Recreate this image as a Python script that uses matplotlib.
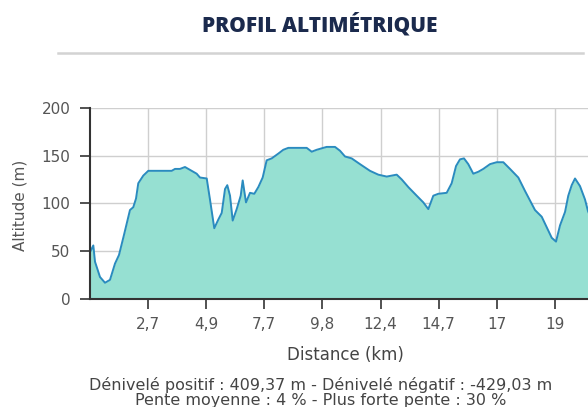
import matplotlib
matplotlib.use("Agg")
import matplotlib.pyplot as plt
from matplotlib.lines import Line2D

# Data: x position in tick-interval units (one unit per labelled tick), altitude in m
x_pos = [0.0, 0.057, 0.086, 0.172, 0.258, 0.344, 0.430, 0.499, 0.585, 0.688,
         0.745, 0.792, 0.831, 0.917, 1.003, 1.406, 1.463, 1.549, 1.635, 1.721,
         1.836, 1.893, 2.009, 2.065, 2.139, 2.208, 2.267, 2.324, 2.363, 2.410,
         2.456, 2.525, 2.594, 2.628, 2.685, 2.754, 2.828, 2.897, 2.972, 3.041,
         3.127, 3.241, 3.327, 3.413, 3.730, 3.816, 3.902, 4.015, 4.073, 4.217,
         4.303, 4.389, 4.504, 4.647, 4.819, 4.962, 5.107, 5.279, 5.365, 5.479,
         5.623, 5.737, 5.823, 5.909, 5.995, 6.139, 6.225, 6.300, 6.368, 6.437,
         6.511, 6.597, 6.683, 6.769, 6.885, 7.000, 7.114, 7.229, 7.372, 7.487,
         7.573, 7.659, 7.775, 7.861, 7.947, 8.021, 8.090, 8.176, 8.232, 8.291,
         8.348, 8.434, 8.520, 8.571, 8.650]
altitude = [49, 56, 39, 23, 17, 20, 37, 46, 67, 93,
            96, 105, 121, 129, 134, 134, 136, 136, 138, 135,
            131, 127, 126, 104, 74, 83, 90, 115, 119, 108,
            82, 94, 108, 124, 101, 111, 110, 117, 127, 145,
            147, 152, 156, 158, 158, 154, 156, 158, 159, 159,
            155, 149, 147, 141, 134, 130, 128, 130, 125, 117,
            108, 101, 94, 108, 110, 111, 121, 139, 146, 147,
            141, 131, 133, 136, 141, 143, 143, 136, 127, 113,
            103, 93, 86, 75, 64, 60, 77, 91, 108, 119,
            126, 118, 104, 92, 80]

tick_positions = [1, 2, 3, 4, 5, 6, 7, 8]
tick_labels = ["2,7", "4,9", "7,7", "9,8", "12,4", "14,7", "17", "19"]
y_ticks = [0, 50, 100, 150, 200]

title = "PROFIL ALTIMÉTRIQUE"
footer1 = "Dénivelé positif : 409,37 m - Dénivelé négatif : -429,03 m"
footer2 = "Pente moyenne : 4 % - Plus forte pente : 30 %"

W, H = 588, 407
fig = plt.figure(figsize=(W / 100, H / 100), dpi=100)
fig.patch.set_facecolor("white")

left, right, top, bottom = 90, 588, 107.7, 299
ax = fig.add_axes([left / W, (H - bottom) / H, (right - left) / W, (bottom - top) / H])

ax.fill_between(x_pos, altitude, 0, color="#96e0d2", linewidth=0, zorder=2)
ax.plot(x_pos, altitude, color="#2a8bbf", linewidth=1.4, zorder=3)

ax.set_xlim(0, (right - left) / 58.1)
ax.set_ylim(0, 200)
ax.set_xticks(tick_positions)
ax.set_xticklabels(tick_labels)
ax.set_yticks(y_ticks)

ax.grid(True, color="#cfcfcf", linewidth=1.0, zorder=1)
ax.set_axisbelow(True)
for s in ["top", "right"]:
    ax.spines[s].set_visible(False)
for s in ["left", "bottom"]:
    ax.spines[s].set_color("#333333")
    ax.spines[s].set_linewidth(1.5)
    ax.spines[s].set_zorder(4)

ax.tick_params(axis="both", direction="out", length=7, width=1.2, color="#333333",
               labelcolor="#555555", labelsize=11)
ax.tick_params(axis="y", pad=7)
ax.tick_params(axis="x", pad=6)
for lab in ax.get_xticklabels() + ax.get_yticklabels():
    lab.set_family("DejaVu Sans")

fig.text(20 / W, 1 - 205 / H, "Altitude (m)", rotation=90, ha="center", va="center",
         fontsize=11, color="#555555", family="DejaVu Sans")
fig.text(345 / W, 1 - 355 / H, "Distance (km)", ha="center", va="center",
         fontsize=12, color="#444444", family="DejaVu Sans")
fig.text(321 / W, 1 - 385 / H, footer1, ha="center", va="center",
         fontsize=11.5, color="#444444", family="DejaVu Sans")
fig.text(321 / W, 1 - 400 / H, footer2, ha="center", va="center",
         fontsize=11.5, color="#444444", family="DejaVu Sans")

fig.text(320 / W, 1 - 25 / H, title, ha="center", va="center", fontsize=15,
         fontweight="heavy", family="Open Sans", color="#1b2a4d")
fig.add_artist(Line2D([58 / W, 583 / W], [1 - 53 / H, 1 - 53 / H], color="#d3d3d3",
                      linewidth=1.8, transform=fig.transFigure))

fig.savefig("out.png", dpi=100)
